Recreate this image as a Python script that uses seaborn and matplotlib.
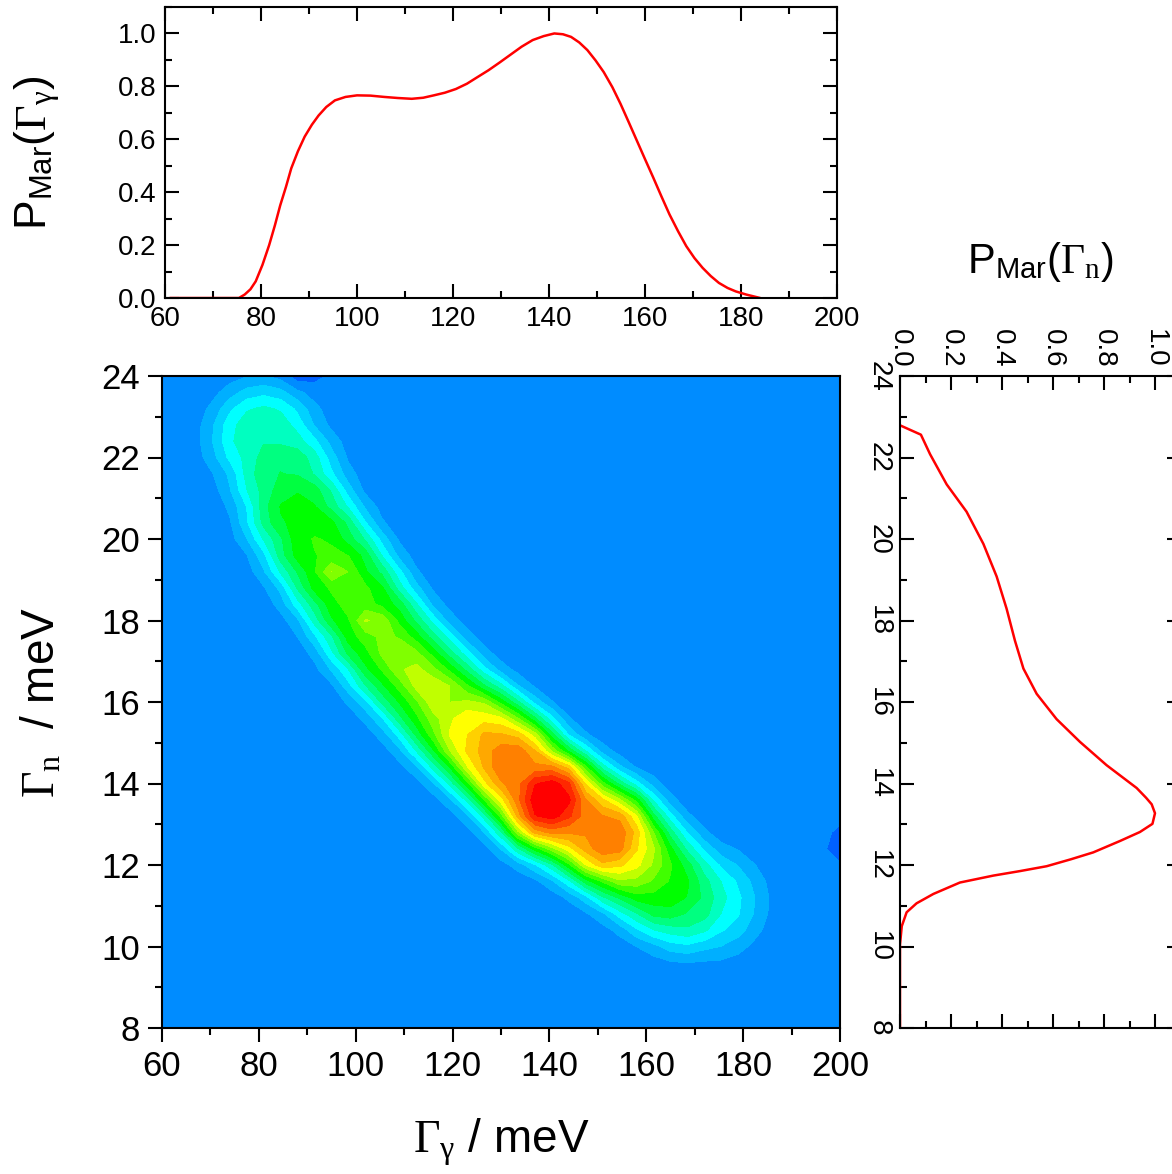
import numpy as np
import pandas as pd
import matplotlib
matplotlib.use("Agg")
import matplotlib.pyplot as plt
import seaborn as sns
from matplotlib.colors import ListedColormap, BoundaryNorm
from matplotlib.ticker import MultipleLocator

# marginal of Gamma_gamma (top panel)
gg_x = [61, 75.4, 76.6, 77.8, 78.9, 80.3, 81.7, 82.9, 84.0, 85.2, 86.3, 87.7, 89.1, 90.6,
        92.0, 93.6, 95.4, 97.6, 100.0, 102.8, 105.7, 108.5, 111.4, 113.8, 116.0, 118.3,
        120.6, 122.9, 125.1, 127.4, 129.7, 132.0, 134.3, 136.6, 138.9, 141.1, 142.9,
        144.6, 146.3, 148.0, 149.7, 151.4, 153.2, 154.9, 156.6, 158.3, 160.0, 161.7,
        163.4, 165.1, 166.9, 168.6, 170.3, 172.0, 173.7, 175.4, 177.2, 178.9, 181.1, 184.0]
gg_p = [0, 0, 0.013, 0.033, 0.063, 0.125, 0.20, 0.275, 0.35, 0.42, 0.49, 0.555, 0.61,
        0.655, 0.69, 0.722, 0.747, 0.76, 0.766, 0.765, 0.76, 0.756, 0.753, 0.757, 0.766,
        0.776, 0.79, 0.81, 0.835, 0.861, 0.89, 0.92, 0.95, 0.975, 0.99, 1.0, 0.997,
        0.987, 0.966, 0.937, 0.898, 0.854, 0.797, 0.734, 0.665, 0.595, 0.525, 0.456,
        0.385, 0.316, 0.252, 0.196, 0.151, 0.114, 0.083, 0.057, 0.038, 0.025, 0.013, 0]

# marginal of Gamma_n (right panel)
gn_y = [22.79, 22.56, 22.08, 21.34, 20.67, 19.88, 19.08, 18.29, 17.5, 16.82, 16.2,
        15.58, 15.02, 14.45, 13.89, 13.65, 13.49, 13.27, 13.01, 12.81, 12.59, 12.31,
        12.14, 11.97, 11.85, 11.74, 11.57, 11.29, 11.06, 10.84, 10.5, 10.05, 8.0]
gn_p = [0, 0.082, 0.118, 0.183, 0.261, 0.327, 0.379, 0.418, 0.451, 0.484, 0.536,
        0.614, 0.706, 0.81, 0.928, 0.965, 0.987, 1.0, 0.99, 0.941, 0.863, 0.758,
        0.67, 0.575, 0.47, 0.366, 0.235, 0.131, 0.065, 0.026, 0.007, 0, 0]

# joint posterior: ridge of broad lumps (Gamma_gamma, Gamma_n, height)
ridge_x = [81, 85, 88, 92, 96, 100, 104, 108, 112, 116, 120, 124, 128, 132, 136,
           140, 144, 148, 152, 156, 160, 164, 168, 173]
ridge_y = [22.5, 21.6, 20.7, 19.9, 19.2, 18.5, 17.8, 17.2, 16.7, 16.2, 15.7, 15.3,
           14.9, 14.5, 14.0, 13.6, 13.3, 13.0, 12.7, 12.3, 11.9, 11.5, 11.2, 11.1]
ridge_h = [0.26, 0.32, 0.39, 0.43, 0.45, 0.45, 0.46, 0.46, 0.47, 0.49, 0.54, 0.64,
           0.72, 0.80, 0.79, 0.97, 0.80, 0.76, 0.80, 0.62, 0.48, 0.41, 0.32, 0.20]
# small yellow-green spots along the middle of the ridge
spot_x = [96.1, 103.5, 107.0, 110.4, 113.6, 117.3]
spot_y = [19.2, 18.0, 17.4, 17.0, 16.6, 16.2]
spot_h = [0.55, 0.57, 0.56, 0.59, 0.61, 0.64]
# small dips below background
dip_x = [89, 201]
dip_y = [24.2, 12.5]
dip_h = [-0.12, -0.06]

W, H = 1172, 1174
sns.set_style("ticks")
plt.rcParams["font.family"] = ["Liberation Sans", "DejaVu Sans"]
plt.rcParams["mathtext.fontset"] = "custom"
plt.rcParams["mathtext.rm"] = "Liberation Serif"
plt.rcParams["mathtext.it"] = "Liberation Serif:italic"
plt.rcParams["mathtext.sf"] = "Liberation Sans"
for key in ["text.color", "axes.labelcolor", "xtick.color", "ytick.color", "axes.edgecolor"]:
    plt.rcParams[key] = "black"
plt.rcParams["axes.linewidth"] = 1.5

fig = plt.figure(figsize=(W / 100, H / 100), dpi=100)
ax_top = fig.add_axes([165 / W, 1 - 298 / H, 672 / W, 291 / H])
ax_main = fig.add_axes([162 / W, 1 - 1028 / H, 678 / W, 652 / H])
ax_right = fig.add_axes([900 / W, 1 - 1028 / H, 280.5 / W, 652 / H])

# ---- contour map
gx = np.linspace(60, 200, 41)
gy = np.linspace(8, 24, 41)
X, Y = np.meshgrid(gx, gy)
sx, sy = 678 / 140, 652 / 16   # pixels per unit, keeps lumps round on screen


def lump_dist(bx, by):
    return np.hypot((X - bx) * sx, (Y - by) * sy)


Z = np.zeros_like(X)
for bx, by, bh in zip(ridge_x, ridge_y, ridge_h):
    Z = np.maximum(Z, bh * np.exp(-0.5 * (lump_dist(bx, by) / 42.0) ** 3))
for bx, by, bh in zip(spot_x, spot_y, spot_h):
    Z = np.maximum(Z, bh * np.exp(-0.5 * (lump_dist(bx, by) / 22.0) ** 2))
for bx, by, bh in zip(dip_x, dip_y, dip_h):
    Z = Z + bh * np.exp(-0.5 * (lump_dist(bx, by) / 12.0) ** 2)

colors = ["#0060FF", "#008CFF", "#00AFFF", "#00D2FF", "#00FFFF", "#00FFC0", "#00FF80",
          "#00FF40", "#00FF00", "#40FF00", "#80FF00", "#C0FF00", "#FFFF00", "#FFD000",
          "#FFA800", "#FF8000", "#FF5000", "#FF2800", "#FF0000"]
bounds = [-1.0, -0.02] + list(np.linspace(0.05, 0.91, 17)) + [1.5]
cmap = ListedColormap(colors)
norm = BoundaryNorm(bounds, cmap.N)
ax_main.contourf(X, Y, Z, levels=bounds, cmap=cmap, norm=norm)
ax_main.set_xlim(60, 200)
ax_main.set_ylim(8, 24)
ax_main.xaxis.set_major_locator(MultipleLocator(20))
ax_main.xaxis.set_minor_locator(MultipleLocator(10))
ax_main.yaxis.set_major_locator(MultipleLocator(2))
ax_main.yaxis.set_minor_locator(MultipleLocator(1))
ax_main.tick_params(which="both", direction="out", top=False, right=False,
                    labelsize=25, width=1.5, pad=6)
ax_main.tick_params(which="major", length=10)
ax_main.tick_params(which="minor", length=5)
ax_main.set_xlabel(r"$\Gamma_{\mathrm{\gamma}}$ / meV", fontsize=33, labelpad=24)
ax_main.set_ylabel(r"$\Gamma_{\mathrm{n}}$  / meV", fontsize=33, labelpad=26)

# ---- top marginal
sns.lineplot(x=gg_x, y=gg_p, ax=ax_top, color="red", linewidth=1.8, sort=False,
             estimator=None)
ax_top.set_xlim(60, 200)
ax_top.set_ylim(0, 1.1)
ax_top.xaxis.set_major_locator(MultipleLocator(20))
ax_top.xaxis.set_minor_locator(MultipleLocator(10))
ax_top.yaxis.set_major_locator(MultipleLocator(0.2))
ax_top.yaxis.set_minor_locator(MultipleLocator(0.1))
ax_top.tick_params(which="both", direction="in", top=True, right=True,
                   labelsize=20, width=1.5, pad=6)
ax_top.tick_params(which="major", length=10)
ax_top.tick_params(which="minor", length=5)
ax_top.set_ylabel(r"P$_{\mathsf{Mar}}$($\Gamma_{\mathrm{\gamma}}$)", fontsize=32, labelpad=40)

# ---- right marginal
sns.lineplot(x=gn_p, y=gn_y, ax=ax_right, color="red", linewidth=1.8, sort=False,
             estimator=None, orient="y")
ax_right.set_xlim(0, 1.1)
ax_right.set_ylim(8, 24)
ax_right.xaxis.tick_top()
ax_right.xaxis.set_label_position("top")
ax_right.xaxis.set_major_locator(MultipleLocator(0.2))
ax_right.xaxis.set_minor_locator(MultipleLocator(0.1))
ax_right.yaxis.set_major_locator(MultipleLocator(2))
ax_right.yaxis.set_minor_locator(MultipleLocator(1))
ax_right.tick_params(which="both", direction="in", top=True, bottom=True, left=True,
                     right=True, labelsize=20, width=1.5, pad=6)
ax_right.tick_params(which="major", length=10)
ax_right.tick_params(which="minor", length=5)
ax_right.tick_params(axis="x", labelrotation=-90)
ax_right.tick_params(axis="y", labelrotation=-90)
for lab in ax_right.get_yticklabels():
    lab.set_va("center")
ax_right.set_xlabel(r"P$_{\mathsf{Mar}}$($\Gamma_{\mathrm{n}}$)", fontsize=30, labelpad=40)

fig.savefig("out.png", dpi=100)
